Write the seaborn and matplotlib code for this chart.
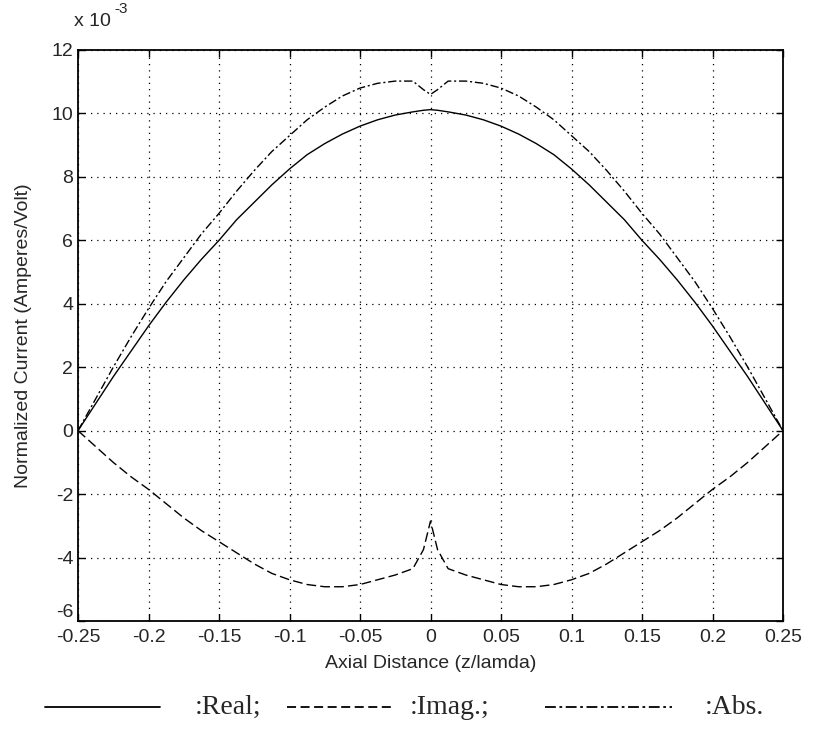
import numpy as np
import pandas as pd
import matplotlib
matplotlib.use("Agg")
import matplotlib.pyplot as plt
import seaborn as sns
from matplotlib.lines import Line2D

# Data (values in units of 1e-3 A/V) (left half; curves are symmetric)
z_half = [-0.25, -0.2375, -0.225, -0.2125, -0.2, -0.1875, -0.175, -0.1625, -0.15, -0.1375,
          -0.125, -0.1125, -0.1, -0.0875, -0.075, -0.0625, -0.05, -0.0375, -0.025, -0.0125,
          -0.005, 0.0]
real_half = [0.0, 0.85, 1.7, 2.5, 3.3, 4.05, 4.75, 5.4, 6.0, 6.65,
             7.2, 7.75, 8.25, 8.7, 9.05, 9.35, 9.6, 9.8, 9.95, 10.05,
             10.1, 10.12]
imag_half = [0.0, -0.5, -1.0, -1.45, -1.85, -2.3, -2.75, -3.15, -3.5, -3.85,
             -4.2, -4.5, -4.7, -4.85, -4.92, -4.92, -4.85, -4.7, -4.55, -4.35,
             -3.75, -2.85]
abs_half = [0.0, 1.0, 2.0, 2.95, 3.85, 4.7, 5.45, 6.2, 6.85, 7.55,
            8.2, 8.8, 9.3, 9.8, 10.2, 10.55, 10.8, 10.95, 11.02, 11.02,
            10.75, 10.6]

xticks = [-0.25, -0.2, -0.15, -0.1, -0.05, 0, 0.05, 0.1, 0.15, 0.2, 0.25]
xticklabels = ["-0.25", "-0.2", "-0.15", "-0.1", "-0.05", "0", "0.05", "0.1", "0.15", "0.2", "0.25"]
yticks = [-6, -4, -2, 0, 2, 4, 6, 8, 10, 12]
yticklabels = ["-6", "-4", "-2", "0", "2", "4", "6", "8", "10", "12"]

# mirror halves
z = z_half + [-v for v in z_half[-2::-1]]
real = real_half + real_half[-2::-1]
imag = imag_half + imag_half[-2::-1]
absv = abs_half + abs_half[-2::-1]

df = pd.DataFrame({
    "z": z * 3,
    "I": real + imag + absv,
    "part": ["Real"] * len(z) + ["Imag"] * len(z) + ["Abs"] * len(z),
})

sns.set_style("white")
plt.rcParams["font.family"] = ["Liberation Sans", "DejaVu Sans"]
plt.rcParams["axes.unicode_minus"] = False

fig = plt.figure(figsize=(8.34, 7.30), dpi=100)
ax = fig.add_axes([78 / 834, 1 - 621 / 730, (783 - 78) / 834, (621 - 50) / 730])

styles = {"Real": "-", "Imag": (0, (7, 3)), "Abs": (0, (6, 2, 1.5, 2))}
for part in ["Real", "Imag", "Abs"]:
    sub = df[df["part"] == part]
    sns.lineplot(data=sub, x="z", y="I", ax=ax, color="black", lw=1.0,
                 linestyle=styles[part], estimator=None, sort=False, legend=False)

ax.set_xlim(-0.25, 0.25)
ax.set_ylim(-6, 12)
ax.set_xticks(xticks)
ax.set_xticklabels(xticklabels)
ax.set_yticks(yticks)
ax.set_yticklabels(yticklabels)
ax.tick_params(direction="in", length=5, labelsize=14, top=True, right=True,
               bottom=True, left=True, color="black", width=1)
ax.tick_params(axis="x", pad=6)
ax.get_yticklabels()[0].set_va("bottom")
ax.grid(True, linestyle=(0, (1, 4)), color="black", lw=0.9)
for s in ax.spines.values():
    s.set_color("black")
    s.set_linewidth(1.3)
ax.set_xlabel("Axial Distance (z/lamda)", fontsize=14, labelpad=6)
ax.set_ylabel("Normalized Current (Amperes/Volt)", fontsize=14, labelpad=14)
ax.text(-0.005, 1.035, "x 10", transform=ax.transAxes, fontsize=14,
        ha="left", va="bottom")
ax.text(0.052, 1.06, "-3", transform=ax.transAxes, fontsize=11,
        ha="left", va="bottom")

# legend-like caption below the plot
y_leg = 1 - 707 / 730
serif = ["Liberation Serif", "DejaVu Serif"]
fig.add_artist(Line2D([45 / 834, 160 / 834], [y_leg, y_leg], color="black", lw=1.3,
                      transform=fig.transFigure))
fig.text(195 / 834, y_leg, ":Real;", fontsize=20, family=serif, va="center")
fig.add_artist(Line2D([287 / 834, 395 / 834], [y_leg, y_leg], color="black", lw=1.3,
                      linestyle=(0, (5, 2.5)), transform=fig.transFigure))
fig.text(410 / 834, y_leg, ":Imag.;", fontsize=20, family=serif, va="center")
fig.add_artist(Line2D([545 / 834, 672 / 834], [y_leg, y_leg], color="black", lw=1.3,
                      linestyle=(0, (6, 2, 1.5, 2)), transform=fig.transFigure))
fig.text(705 / 834, y_leg, ":Abs.", fontsize=20, family=serif, va="center")

fig.savefig("out.png", dpi=100)
